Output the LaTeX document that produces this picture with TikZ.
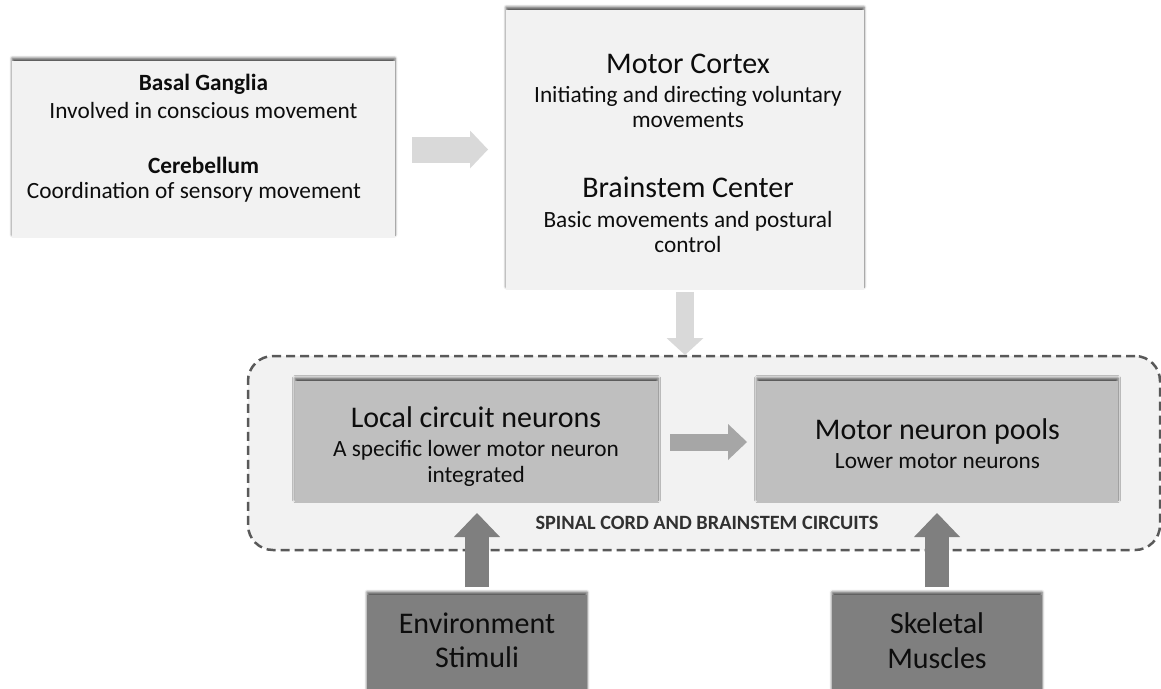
\documentclass[tikz,border=0pt]{standalone}
\usepackage{fontspec}
\setmainfont{Carlito}
\usetikzlibrary{arrows.meta,shadows.blur}

\definecolor{paleBox}{HTML}{F2F2F2}
\definecolor{midBox}{HTML}{BFBFBF}
\definecolor{darkBox}{HTML}{7F7F7F}
\definecolor{paleArrow}{HTML}{D9D9D9}
\definecolor{midArrow}{HTML}{A6A6A6}
\definecolor{darkArrow}{HTML}{7F7F7F}
\definecolor{dashGray}{HTML}{595959}
\definecolor{ink}{HTML}{0D0D0D}

\tikzset{
  panel/.style={draw=none, inner sep=0pt, outer sep=0pt,
    blur shadow={shadow xshift=0pt, shadow yshift=3pt,
                 shadow blur radius=2.5pt, shadow opacity=65}},
  pale/.style={panel, fill=paleBox},
  mid/.style={panel, fill=midBox},
  dark/.style={panel, fill=darkBox},
  group/.style={draw=dashGray, fill=paleBox, line width=2.5pt,
    dash pattern=on 9pt off 5pt, rounded corners=25pt,
    inner sep=0pt, outer sep=0pt},
  head/.style={anchor=base, text=ink, inner sep=0pt, font=\fontsize{30}{36}\selectfont},
  body/.style={anchor=base, text=ink, inner sep=0pt, font=\fontsize{23.3}{28}\selectfont},
  bhead/.style={anchor=base, text=ink, inner sep=0pt, font=\fontsize{23.3}{28}\selectfont\bfseries},
  tag/.style={anchor=base, text=ink!85, inner sep=0pt, font=\fontsize{20.3}{24}\selectfont\bfseries},
  blockR/.style={draw=paleArrow, line width=26pt,
    -{Triangle[width=38pt,length=18pt,line width=0pt]}},
  blockD/.style={draw=paleArrow, line width=18pt,
    -{Triangle[width=37pt,length=17pt,line width=0pt]}},
  blockM/.style={draw=midArrow, line width=17pt,
    -{Triangle[width=36pt,length=19pt,line width=0pt]}},
  blockU/.style={draw=darkArrow, line width=24pt,
    -{Triangle[width=46pt,length=24pt,line width=0pt]}},
}

\begin{document}
\begin{tikzpicture}[x=1pt,y=-1pt]
\useasboundingbox (0,0) rectangle (1161,688);

% dashed frame of the spinal circuits
\node[group, minimum width=912pt, minimum height=194pt] (circ) at (704,453) {};

% panels
\node[pale, minimum width=383pt, minimum height=177pt] (basal) at (203.5,149.5) {};
\node[pale, minimum width=358pt, minimum height=280pt] (motor) at (685,150) {};
\node[mid, minimum width=363pt, minimum height=122pt] (local) at (476.5,442) {};
\node[mid, minimum width=361pt, minimum height=122pt] (pools) at (937.5,442) {};
\node[dark, minimum width=220pt, minimum height=105pt] (env) at (477,647.5) {};
\node[dark, minimum width=210pt, minimum height=105pt] (skel) at (937,647.5) {};

% block arrows
\draw[blockR, shorten <=17pt, shorten >=18pt] (basal.east) -- (basal.east -| motor.west);
\draw[blockD, shorten <=2pt, shorten >=1pt] (motor.south) -- (motor.south |- circ.north);
\draw[blockM, shorten <=12pt, shorten >=10pt] (local.east) -- (pools.west);
\draw[blockU, shorten <=8pt, shorten >=10pt] (env.north) -- (env.north |- local.south);
\draw[blockU, shorten <=8pt, shorten >=10pt] (skel.north) -- (skel.north |- pools.south);

% texts of the upper left panel
\node[bhead] (bgT) at (203.5,90) {Basal Ganglia};
\node[body]  (bgS) at (203.5,118) {Involved in conscious movement};
\node[bhead] (cbT) at (203.5,173) {Cerebellum};
\node[body]  (cbS) at (194,198) {Coordination of sensory movement};

% texts of the upper right panel
\node[head] (mcT)  at (688,73)  {Motor Cortex};
\node[body] (mcS1) at (688,102) {Initiating and directing voluntary};
\node[body] (mcS2) at (688,127) {movements};
\node[head] (bsT)  at (688,197) {Brainstem Center};
\node[body] (bsS1) at (688,227) {Basic movements and postural};
\node[body] (bsS2) at (688,252) {control};

% texts of the circuit panels
\node[head] (lcT)  at (476,427) {Local circuit neurons};
\node[body] (lcS1) at (476,456) {A specific lower motor neuron};
\node[body] (lcS2) at (476,482) {integrated};
\node[head] (mpT)  at (937.5,439) {Motor neuron pools};
\node[body] (mpS)  at (937.5,468) {Lower motor neurons};
\node[tag]  (cap)  at (707,529) {SPINAL CORD AND BRAINSTEM CIRCUITS};

% texts of the input panels
\node[head] (enT1) at (477,633) {Environment};
\node[head] (enT2) at (477,667) {Stimuli};
\node[head] (skT1) at (937,633) {Skeletal};
\node[head] (skT2) at (937,668) {Muscles};
\end{tikzpicture}
\end{document}
